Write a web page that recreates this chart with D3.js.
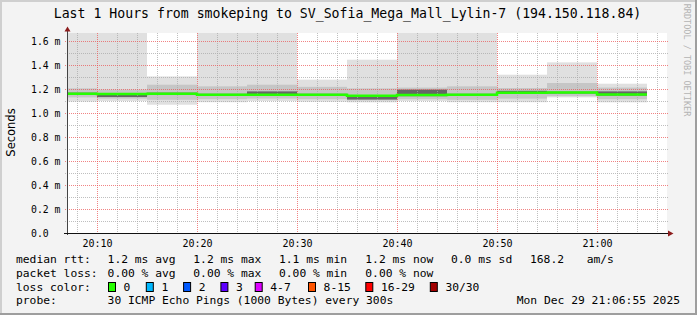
<!doctype html>
<html>
<head>
<meta charset="utf-8" />
<style>
	body { margin: 0; background: #f3f3f3; }
	svg { display: block; }
	text { font-family: 'DejaVu Sans Mono', monospace; fill: #000; }
</style>
</head>
<body>
<div id="app"></div>
<script src="https://cdnjs.cloudflare.com/ajax/libs/d3/7.8.5/d3.min.js"></script>
<script>
// 5 minute bins, values in ms (30 pings each, sorted -> smoke bands)
const binStart  = ['20:05','20:10','20:15','20:20','20:25','20:30','20:35','20:40','20:45','20:50','20:55','21:00'];
const rttMax    = [2.4, 2.4, 1.305, 2.4, 2.4, 1.278, 1.444, 2.4, 2.4, 1.319, 1.422, 1.244];
const rttHi     = [1.205, 1.195, 1.236, 1.222, 1.236, 1.218, 1.205, 1.212, 1.222, 1.208, 1.25, 1.212];
const rttCoreHi = [1.17, 1.158, 1.17, 1.16, 1.18, 1.16, 1.143, 1.195, 1.16, 1.185, 1.178, 1.18];
const rttMedian = [1.16, 1.158, 1.16, 1.153, 1.152, 1.152, 1.143, 1.15, 1.152, 1.168, 1.17, 1.155];
const rttCoreLo = [1.15, 1.133, 1.15, 1.145, 1.145, 1.145, 1.112, 1.14, 1.145, 1.16, 1.162, 1.145];
const rttLo     = [1.13, 1.12, 1.11, 1.115, 1.12, 1.115, 1.105, 1.115, 1.11, 1.12, 1.14, 1.115];
const rttMin    = [1.095, 1.1, 1.069, 1.09, 1.1, 1.094, 1.089, 1.1, 1.09, 1.09, 1.13, 1.089];

const yTicks = [0, 0.2, 0.4, 0.6, 0.8, 1.0, 1.2, 1.4, 1.6];
const xTicks = ['20:10','20:20','20:30','20:40','20:50','21:00'];
const timeRange = ['20:07', '21:07'];

const lossLabels = ['0','1','2','3','4-7','8-15','16-29','30/30'];
const lossColors = ['#26ff00','#00b8ff','#0059ff','#5e00ff','#dd00ff','#ff5500','#ff0000','#a10000'];

const W = 697, H = 315;
const plot = { left: 67, right: 667, top: 33, bottom: 233 };
const parse = d3.timeParse('%H:%M');
const step = 5 * 60 * 1000;

const x = d3.scaleTime().domain(timeRange.map(parse)).range([plot.left, plot.right]);
const y = d3.scaleLinear().domain([0, 1.6]).range([plot.bottom, 41]);

const svg = d3.select('#app').append('svg').attr('width', W).attr('height', H);

// canvas + 3d frame
svg.append('rect').attr('width', W).attr('height', H).attr('fill', '#f3f3f3');
svg.append('rect').attr('width', W).attr('height', 2).attr('fill', '#cfcfcf');
svg.append('rect').attr('width', 2).attr('height', H).attr('fill', '#cfcfcf');
svg.append('rect').attr('y', H - 2).attr('width', W).attr('height', 2).attr('fill', '#9e9e9e');
svg.append('rect').attr('x', W - 2).attr('width', 2).attr('height', H).attr('fill', '#9e9e9e');

svg.append('rect').attr('x', plot.left).attr('y', plot.top)
	.attr('width', plot.right - plot.left).attr('height', plot.bottom - plot.top).attr('fill', '#fff');

svg.append('clipPath').attr('id', 'clip').append('rect')
	.attr('x', plot.left).attr('y', plot.top)
	.attr('width', plot.right - plot.left).attr('height', plot.bottom - plot.top);

const bins = binStart.map((s, i) => ({
	t0: parse(s), t1: new Date(+parse(s) + step),
	max: rttMax[i], hi: rttHi[i], coreHi: rttCoreHi[i], med: rttMedian[i],
	coreLo: rttCoreLo[i], lo: rttLo[i], min: rttMin[i]
}));

// smoke
const smoke = svg.append('g').attr('clip-path', 'url(#clip)');
const layers = [['min', 'max', '#e0e0e0'], ['lo', 'hi', '#c6c6c6'], ['coreLo', 'coreHi', '#666']];
for (const [a, b, col] of layers) {
	smoke.append('g').selectAll('rect')
		.data(bins)
		.join('rect')
		.attr('x', d => x(d.t0))
		.attr('width', d => x(d.t1) - x(d.t0))
		.attr('y', d => y(d[b]))
		.attr('height', d => y(d[a]) - y(d[b]))
		.attr('fill', col);
}

// grid (drawn over the smoke like rrdtool)
const grid = svg.append('g').attr('stroke-dasharray', '1,1').attr('shape-rendering', 'crispEdges');
const minorY = d3.range(1, 17).filter(i => i % 2).map(i => i / 10);
const minorX = d3.timeMinute.every(2).range(parse('20:08'), parse('21:07')).filter(t => t.getMinutes() % 10);
const minorCol = 'rgba(170,170,170,0.75)', majorCol = 'rgba(235,80,80,0.7)';
grid.selectAll('.hy').data(minorY).join('line')
	.attr('x1', plot.left - 2).attr('x2', plot.right + 2)
	.attr('y1', d => Math.round(y(d)) + 0.5).attr('y2', d => Math.round(y(d)) + 0.5)
	.attr('stroke', minorCol);
grid.selectAll('.vx').data(minorX).join('line')
	.attr('y1', plot.top).attr('y2', plot.bottom + 2)
	.attr('x1', d => Math.round(x(d)) + 0.5).attr('x2', d => Math.round(x(d)) + 0.5)
	.attr('stroke', minorCol);
grid.selectAll('.my').data(yTicks.slice(1)).join('line')
	.attr('x1', plot.left - 2).attr('x2', plot.right + 2)
	.attr('y1', d => Math.round(y(d)) + 0.5).attr('y2', d => Math.round(y(d)) + 0.5)
	.attr('stroke', majorCol);
grid.selectAll('.mx').data(xTicks.map(parse)).join('line')
	.attr('y1', plot.top).attr('y2', plot.bottom + 2)
	.attr('x1', d => Math.round(x(d)) + 0.5).attr('x2', d => Math.round(x(d)) + 0.5)
	.attr('stroke', majorCol);

// median line coloured by loss (0 loss -> green)
const medPts = bins.map(d => [d.t0, d.med]).concat([[bins[bins.length - 1].t1, bins[bins.length - 1].med]]);
svg.append('path')
	.attr('clip-path', 'url(#clip)')
	.attr('d', d3.line().x(d => x(d[0])).y(d => y(d[1])).curve(d3.curveStepAfter)(medPts))
	.attr('fill', 'none').attr('stroke', lossColors[0]).attr('stroke-width', 2.5);

// axes
const yAxis = svg.append('g').attr('transform', `translate(${plot.left},0)`)
	.call(d3.axisLeft(y).tickValues(yTicks).tickSize(0)
		.tickFormat(d => d === 0 ? '0.0' : d3.format('.1f')(d) + ' m'));
yAxis.select('.domain').remove();
yAxis.selectAll('text').attr('x', 31 - plot.left).attr('text-anchor', 'start')
	.attr('dy', '0.35em').style('font-size', '9.8px').style('font-family', "'DejaVu Sans Mono', monospace");

const xAxis = svg.append('g').attr('transform', `translate(0,${plot.bottom})`)
	.call(d3.axisBottom(x).tickValues(xTicks.map(parse)).tickSize(0).tickFormat(d3.timeFormat('%H:%M')));
xAxis.select('.domain').remove();
xAxis.selectAll('text').attr('y', 14).attr('dy', 0)
	.style('font-size', '10px').style('font-family', "'DejaVu Sans Mono', monospace");

svg.append('line').attr('x1', plot.left + 0.5).attr('x2', plot.left + 0.5)
	.attr('y1', plot.bottom + 2).attr('y2', 29).attr('stroke', '#444');
svg.append('line').attr('x1', plot.left - 3).attr('x2', 670)
	.attr('y1', plot.bottom + 0.5).attr('y2', plot.bottom + 0.5).attr('stroke', '#111');
svg.append('path').attr('d', 'M64.5,31.5L70.5,31.5L67.5,26.5Z').attr('fill', '#8c1c1c');
svg.append('path').attr('d', 'M668,230.5L668,236.5L673.5,233.5Z').attr('fill', '#8c1c1c');

// title, unit, watermark
svg.append('text').attr('x', 347.5).attr('y', 18).attr('text-anchor', 'middle')
	.style('font-size', '13.2px')
	.text('Last 1 Hours from smokeping to SV_Sofia_Mega_Mall_Lylin-7 (194.150.118.84)');
svg.append('text').attr('transform', 'translate(15,132.5) rotate(-90)').attr('text-anchor', 'middle')
	.style('font-family', "'DejaVu Sans', sans-serif").style('font-size', '11.5px').text('Seconds');
svg.append('text').attr('transform', 'translate(684,60) rotate(90)').attr('text-anchor', 'middle')
	.style('font-size', '8.5px').style('fill', '#b4b4b4').text('RRDTOOL / TOBI OETIKER');

// legend
const cols = [16, 107.6, 193.3, 279, 365.3, 451, 530, 586.7];
const legendRows = [
	[263, ['median rtt:', '1.2 ms avg', '1.2 ms max', '1.1 ms min', '1.2 ms now', '0.0 ms sd', '168.2', 'am/s']],
	[277, ['packet loss:', '0.00 % avg', '0.00 % max', '0.00 % min', '0.00 % now']]
];
const legend = svg.append('g').style('font-size', '11.3px');
for (const [ly, items] of legendRows) {
	items.forEach((t, i) => legend.append('text').attr('x', cols[i]).attr('y', ly).text(t));
}
legend.append('text').attr('x', 16).attr('y', 290.5).text('loss color:');
const swatchX = [108, 145.8, 183.1, 220.4, 254.7, 308, 365.3, 429.8];
lossLabels.forEach((l, i) => {
	legend.append('rect').attr('x', swatchX[i] + 0.5).attr('y', 282.5).attr('width', 7).attr('height', 9)
		.attr('fill', lossColors[i]).attr('stroke', '#000').attr('stroke-width', 1);
	legend.append('text').attr('x', swatchX[i] + 15.6).attr('y', 290.5).text(l);
});
legend.append('text').attr('x', 16).attr('y', 304).text('probe:');
legend.append('text').attr('x', 107.6).attr('y', 304).text('30 ICMP Echo Pings (1000 Bytes) every 300s');
legend.append('text').attr('x', 680).attr('y', 304).attr('text-anchor', 'end').text('Mon Dec 29 21:06:55 2025');
</script>
</body>
</html>
